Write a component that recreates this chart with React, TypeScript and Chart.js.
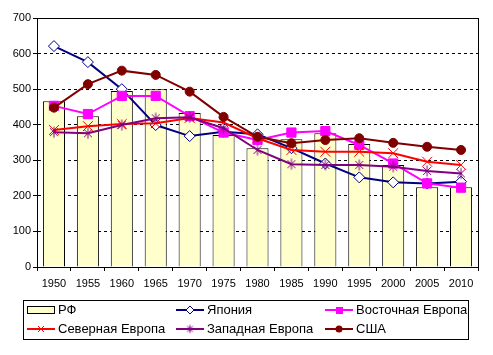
import React, { useEffect, useRef } from "react";
import { Chart, registerables } from "chart.js";

Chart.register(...registerables);

const years = ["1950", "1955", "1960", "1965", "1970", "1975", "1980", "1985", "1990", "1995", "2000", "2005", "2010"];
const rf = [466, 424, 495, 500, 433, 371, 334, 359, 376, 346, 287, 224, 224];
const japan = [621, 576, 500, 399, 368, 380, 373, 334, 291, 252, 238, 235, 240];
const eastEurope = [453, 430, 481, 481, 424, 378, 357, 378, 382, 343, 291, 235, 223];
const northEurope = [385, 396, 402, 404, 419, 406, 362, 329, 324, 324, 320, 296, 287];
const westEurope = [379, 376, 399, 418, 421, 390, 329, 289, 287, 287, 282, 270, 263];
const usa = [448, 514, 552, 540, 493, 422, 366, 348, 357, 362, 349, 338, 329];
const yTicks = [0, 100, 200, 300, 400, 500, 600, 700];

const labels = {
  rf: "РФ",
  japan: "Япония",
  east: "Восточная Европа",
  north: "Северная Европа",
  west: "Западная Европа",
  usa: "США",
};

const FONT = "'Liberation Sans', Arial, sans-serif";

function makeAsterisk(color: string, r: number) {
  const size = Math.ceil(r * 2 + 3);
  const c = document.createElement("canvas");
  c.width = size;
  c.height = size;
  const ctx = c.getContext("2d")!;
  const m = size / 2;
  const d = r * 0.72;
  ctx.strokeStyle = color;
  ctx.lineWidth = 1;
  ctx.beginPath();
  ctx.moveTo(m - d, m - d);
  ctx.lineTo(m + d, m + d);
  ctx.moveTo(m + d, m - d);
  ctx.lineTo(m - d, m + d);
  ctx.moveTo(m, m - r);
  ctx.lineTo(m, m + r);
  ctx.stroke();
  return c;
}

export default function App() {
  const ref = useRef<HTMLCanvasElement | null>(null);

  useEffect(() => {
    const canvas = ref.current;
    if (!canvas) return;
    const star = makeAsterisk("#800080", 5.5);
    const starSmall = makeAsterisk("#800080", 4);

    const borderPlugin = {
      id: "plotBorder",
      beforeDatasetsDraw(chart: any) {
        const { ctx, chartArea: a } = chart;
        ctx.save();
        ctx.strokeStyle = "#000";
        ctx.lineWidth = 1;
        ctx.setLineDash([]);
        ctx.strokeRect(Math.round(a.left) + 0.5, Math.round(a.top) + 0.5, Math.round(a.right - a.left), Math.round(a.bottom - a.top));
        ctx.restore();
      },
    };

    const legendPlugin = {
      id: "customLegend",
      afterDraw(chart: any) {
        const ctx = chart.ctx as CanvasRenderingContext2D;
        ctx.save();
        ctx.setLineDash([]);
        ctx.fillStyle = "#fff";
        ctx.fillRect(23.5, 300.5, 445, 39);
        ctx.strokeStyle = "#000";
        ctx.lineWidth = 1;
        ctx.strokeRect(23.5, 300.5, 445, 39);
        ctx.font = `13px ${FONT}`;
        ctx.textBaseline = "middle";
        const cols = [27, 176, 325];
        const rows = [310, 329];
        const items: any[] = [
          { t: labels.rf, kind: "bar" },
          { t: labels.japan, kind: "line", color: "#000080", marker: "diamond" },
          { t: labels.east, kind: "line", color: "#FF00FF", marker: "square" },
          { t: labels.north, kind: "line", color: "#FF0000", marker: "x" },
          { t: labels.west, kind: "line", color: "#800080", marker: "star" },
          { t: labels.usa, kind: "line", color: "#800000", marker: "circle" },
        ];
        items.forEach((it, i) => {
          const x = cols[i % 3];
          const y = rows[Math.floor(i / 3)];
          if (it.kind === "bar") {
            ctx.fillStyle = "#FFFFCC";
            ctx.fillRect(x + 0.5, y - 3.5, 27, 7);
            ctx.strokeStyle = "#000";
            ctx.strokeRect(x + 0.5, y - 3.5, 27, 7);
          } else {
            ctx.strokeStyle = it.color;
            ctx.lineWidth = 2;
            ctx.beginPath();
            ctx.moveTo(x, y);
            ctx.lineTo(x + 28, y);
            ctx.stroke();
            const cx = x + 14;
            ctx.lineWidth = 1;
            if (it.marker === "diamond") {
              ctx.fillStyle = "#fff";
              ctx.beginPath();
              ctx.moveTo(cx, y - 4);
              ctx.lineTo(cx + 4, y);
              ctx.lineTo(cx, y + 4);
              ctx.lineTo(cx - 4, y);
              ctx.closePath();
              ctx.fill();
              ctx.stroke();
            } else if (it.marker === "square") {
              ctx.fillStyle = it.color;
              ctx.fillRect(cx - 3, y - 3, 7, 7);
            } else if (it.marker === "x") {
              ctx.beginPath();
              ctx.moveTo(cx - 3, y - 3);
              ctx.lineTo(cx + 3, y + 3);
              ctx.moveTo(cx + 3, y - 3);
              ctx.lineTo(cx - 3, y + 3);
              ctx.stroke();
            } else if (it.marker === "star") {
              ctx.drawImage(starSmall, cx - starSmall.width / 2, y - starSmall.height / 2);
            } else if (it.marker === "circle") {
              ctx.fillStyle = it.color;
              ctx.beginPath();
              ctx.arc(cx, y, 3.5, 0, Math.PI * 2);
              ctx.fill();
            }
          }
          ctx.fillStyle = "#000";
          ctx.fillText(it.t, x + 31, y + 0.5);
        });
        ctx.restore();
      },
    };

    const lineCommon = {
      type: "line" as const,
      borderWidth: 2,
      tension: 0,
      fill: false,
      pointBorderWidth: 1,
    };

    const chart = new Chart(canvas, {
      type: "bar",
      data: {
        labels: years,
        datasets: [
          {
            type: "bar",
            label: labels.rf,
            data: rf,
            backgroundColor: "#FFFFCC",
            borderColor: "#000",
            borderWidth: 1,
            barPercentage: 0.65,
            categoryPercentage: 1,
            order: 10,
          },
          {
            ...lineCommon,
            label: labels.japan,
            data: japan,
            borderColor: "#000080",
            pointStyle: "rectRot",
            pointRadius: 5.5,
            pointBackgroundColor: "#fff",
            pointBorderColor: "#000080",
            order: 5,
          },
          {
            ...lineCommon,
            label: labels.east,
            data: eastEurope,
            borderColor: "#FF00FF",
            pointStyle: "rect",
            pointRadius: 6.5,
            pointBackgroundColor: "#FF00FF",
            pointBorderColor: "#FF00FF",
            order: 4,
          },
          {
            ...lineCommon,
            label: labels.north,
            data: northEurope,
            borderColor: "#FF0000",
            pointStyle: "crossRot",
            pointRadius: 7,
            pointBorderColor: "#FF0000",
            order: 3,
          },
          {
            ...lineCommon,
            label: labels.west,
            data: westEurope,
            borderColor: "#800080",
            pointStyle: star as any,
            pointRadius: 5.5,
            order: 2,
          },
          {
            ...lineCommon,
            label: labels.usa,
            data: usa,
            borderColor: "#800000",
            pointStyle: "circle",
            pointRadius: 4.5,
            pointBackgroundColor: "#800000",
            pointBorderColor: "#800000",
            order: 1,
          },
        ] as any,
      },
      options: {
        responsive: false,
        animation: false,
        devicePixelRatio: 1,
        layout: { padding: { top: 18, right: 15, left: 0, bottom: 0 } },
        plugins: {
          legend: { display: false },
          tooltip: { enabled: false },
        },
        scales: {
          x: {
            offset: true,
            grid: {
              display: true,
              offset: true,
              drawOnChartArea: false,
              drawTicks: true,
              tickLength: 4,
              tickColor: "#000",
              color: "#000",
            },
            border: { display: true, color: "#000", width: 1 },
            ticks: {
              color: "#000",
              font: { family: FONT, size: 11 },
              padding: 6,
              maxRotation: 0,
              autoSkip: false,
            },
            afterFit(scale: any) {
              scale.height = 88;
            },
          },
          y: {
            min: 0,
            max: 700,
            afterBuildTicks(scale: any) {
              scale.ticks = yTicks.map((v) => ({ value: v }));
            },
            grid: {
              color: "#000",
              lineWidth: 1,
              drawTicks: true,
              tickLength: 4,
              tickColor: "#000",
              tickBorderDash: [],
            },
            border: { display: true, color: "#000", width: 1, dash: [3, 3] },
            ticks: {
              color: "#000",
              font: { family: FONT, size: 11 },
              padding: 2,
            },
            afterFit(scale: any) {
              scale.width = 37;
            },
          },
        },
      },
      plugins: [borderPlugin, legendPlugin],
    });

    return () => chart.destroy();
  }, []);

  return (
    <div style={{ position: "fixed", left: 0, top: 0, width: 493, height: 355, background: "#fff" }}>
      <canvas ref={ref} width={493} height={355} style={{ display: "block", width: 493, height: 355 }} />
    </div>
  );
}
